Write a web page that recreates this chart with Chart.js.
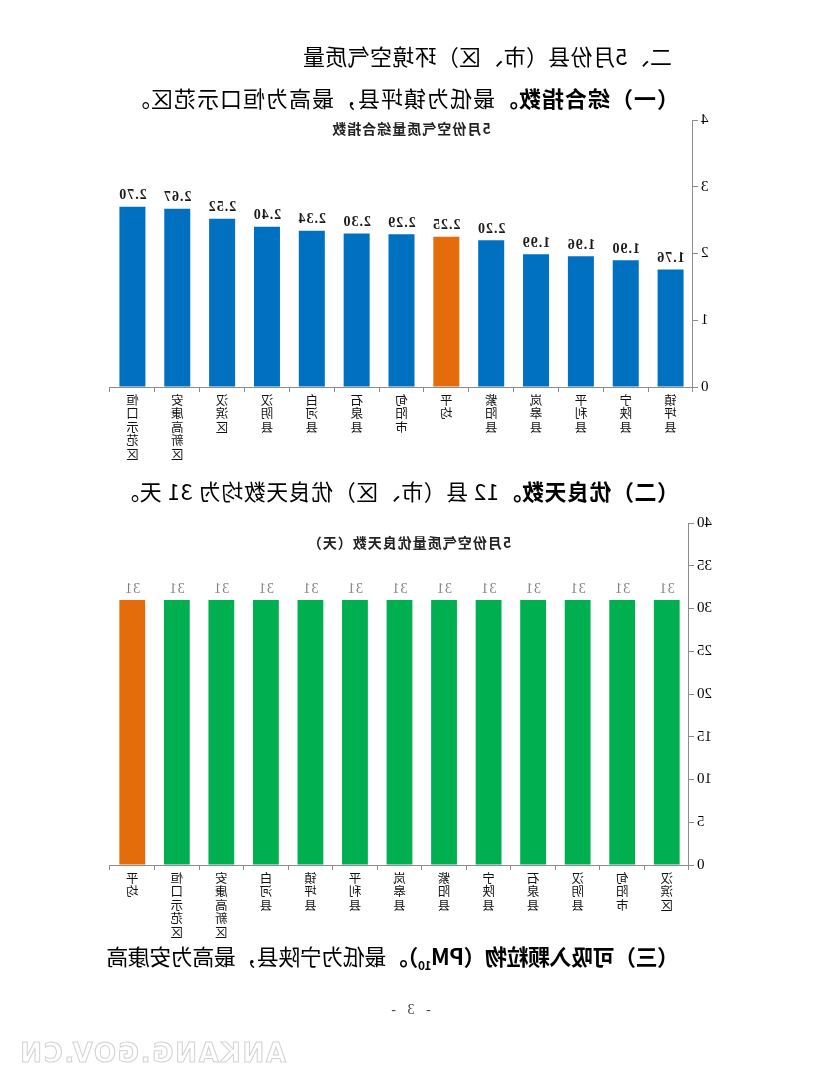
<!DOCTYPE html>
<html>
<head>
<meta charset="utf-8">
<script src="https://cdn.jsdelivr.net/npm/chart.js@4.4.0/dist/chart.umd.min.js"></script>
<style>
  html, body { margin: 0; padding: 0; background: #fff; }
  #page { position: relative; width: 827px; height: 1085px; overflow: hidden; transform: scaleX(-1); }
  .line { position: absolute; white-space: nowrap; font-family: "Noto Sans CJK SC", sans-serif; color: #000; font-size: 22px; line-height: 30px; }
  .line b { font-weight: 700; }
  .line span { font-weight: 400; }
  .ctitle { position: absolute; white-space: nowrap; font-family: "Noto Sans CJK SC", sans-serif; font-weight: 700; font-size: 14px; letter-spacing: 1px; line-height: 18px; color: #222; transform: translateX(-50%); }
  .box { position: absolute; left: 0; width: 827px; }
  #pno { position: absolute; left: 418px; top: 1002px; transform: translateX(-50%); font-family: "Liberation Serif", serif; font-size: 14px; letter-spacing: 4px; color: #444; }
  #wm { position: absolute; left: 541px; top: 1038px; font-family: "DejaVu Sans", sans-serif; font-weight: 700; font-size: 26px; letter-spacing: 1.7px; color: #fff; -webkit-text-stroke: 1px #d2d2d2; }
</style>
</head>
<body>
<div id="page">
  <div class="line" style="left:155px; top:40px; letter-spacing:0.3px;">二、5月份县（市、区）环境空气质量</div>
  <div class="line" style="left:148px; top:82px; letter-spacing:1px;"><b>（一）综合指数。</b><span>最低为镇坪县，最高为恒口示范区。</span></div>

  <div class="box" style="top:100px; height:380px;"><canvas id="chart1"></canvas></div>
  <div class="ctitle" style="left:416px; top:119px;">5月份空气质量综合指数</div>

  <div class="line" style="left:148px; top:475px; letter-spacing:0.5px;"><b>（二）优良天数。</b><span>12 县（市、区）优良天数均为 31 天。</span></div>

  <div class="box" style="top:505px; height:440px;"><canvas id="chart2"></canvas></div>
  <div class="ctitle" style="left:418px; top:533px;">5月份空气质量优良天数（天）</div>

  <div class="line" style="left:148px; top:940px; letter-spacing:-0.5px;"><b>（三）可吸入颗粒物（PM<sub style="font-size:12px;">10</sub>）。</b><span>最低为宁陕县，最高为安康高</span></div>

  <div id="pno">- 3 -</div>
  <div id="wm">ANKANG.GOV.CN</div>
</div>

<script>
// 综合指数
const indexLabels = ["镇坪县", "宁陕县", "平利县", "岚皋县", "紫阳县", "平均", "旬阳市", "石泉县", "白河县", "汉阴县", "汉滨区", "安康高新区", "恒口示范区"];
const indexValues = [1.76, 1.90, 1.96, 1.99, 2.20, 2.25, 2.29, 2.30, 2.34, 2.40, 2.52, 2.67, 2.70];
const indexTicks = [0, 1, 2, 3, 4];

// 优良天数
const dayLabels = ["汉滨区", "旬阳市", "汉阴县", "石泉县", "宁陕县", "紫阳县", "岚皋县", "平利县", "镇坪县", "白河县", "安康高新区", "恒口示范区", "平均"];
const dayValues = [31, 31, 31, 31, 31, 31, 31, 31, 31, 31, 31, 31, 31];
const dayTicks = [0, 5, 10, 15, 20, 25, 30, 35, 40];

const BLUE = "#0070C0";
const GREEN = "#00B050";
const ORANGE = "#E46C0A";

document.addEventListener("DOMContentLoaded", function() {
  // value labels on top of bars
  const barLabels = {
    id: "barLabels",
    afterDatasetsDraw(chart, args, opts) {
      const ctx = chart.ctx;
      const meta = chart.getDatasetMeta(0);
      const values = chart.data.datasets[0].data;
      ctx.save();
      ctx.font = opts.font;
      ctx.fillStyle = opts.color;
      ctx.letterSpacing = opts.spacing;
      ctx.textAlign = "center";
      ctx.textBaseline = "bottom";
      meta.data.forEach((bar, i) => {
        ctx.fillText(opts.format(values[i]), bar.x, bar.y - opts.gap);
      });
      ctx.restore();
    },
  };

  function makeConfig(labels, values, ticks, mainColor, yWidth, xHeight, padTop, labelOpts) {
    return {
      type: "bar",
      data: {
        // stack the characters vertically
        labels: labels.map((l) => l.split("")),
        datasets: [
          {
            data: values,
            backgroundColor: labels.map((l) => (l === "平均" ? ORANGE : mainColor)),
            borderWidth: 0,
            categoryPercentage: 1.0,
            barPercentage: 0.58,
          },
        ],
      },
      options: {
        responsive: true,
        maintainAspectRatio: false,
        animation: false,
        layout: { padding: { top: padTop, right: 110, left: 0, bottom: 0 } },
        plugins: {
          legend: { display: false },
          tooltip: { enabled: false },
          barLabels: labelOpts,
        },
        scales: {
          x: {
            grid: { display: true, drawOnChartArea: false, drawTicks: true, tickLength: 5, color: "#8c8c8c" },
            border: { color: "#8c8c8c" },
            ticks: {
              autoSkip: false,
              maxRotation: 0,
              padding: 1,
              color: "#111",
              font: { family: "Noto Sans CJK SC", size: 12.5, lineHeight: 1.08 },
            },
            afterFit: (s) => { s.height = xHeight; },
          },
          y: {
            min: ticks[0],
            max: ticks[ticks.length - 1],
            grid: { display: true, drawOnChartArea: false, drawTicks: true, tickLength: 5, color: "#8c8c8c" },
            border: { color: "#8c8c8c" },
            ticks: {
              stepSize: ticks[1] - ticks[0],
              padding: 3,
              color: "#000",
              font: { family: "Liberation Serif", size: 15 },
            },
            afterFit: (s) => { s.width = yWidth; },
          },
        },
      },
      plugins: [barLabels],
    };
  }

  new Chart(
    document.getElementById("chart1"),
    makeConfig(indexLabels, indexValues, indexTicks, BLUE, 134, 93, 20, {
      font: "bold 14px 'Liberation Serif'",
      color: "#1a1a1a",
      spacing: "1px",
      gap: 4,
      format: (v) => v.toFixed(2),
    })
  );

  new Chart(
    document.getElementById("chart2"),
    makeConfig(dayLabels, dayValues, dayTicks, GREEN, 138, 80, 18, {
      font: "14px 'Liberation Serif'",
      color: "#7f7f7f",
      spacing: "1px",
      gap: 4,
      format: (v) => String(v),
    })
  );
});
</script>
</body>
</html>
